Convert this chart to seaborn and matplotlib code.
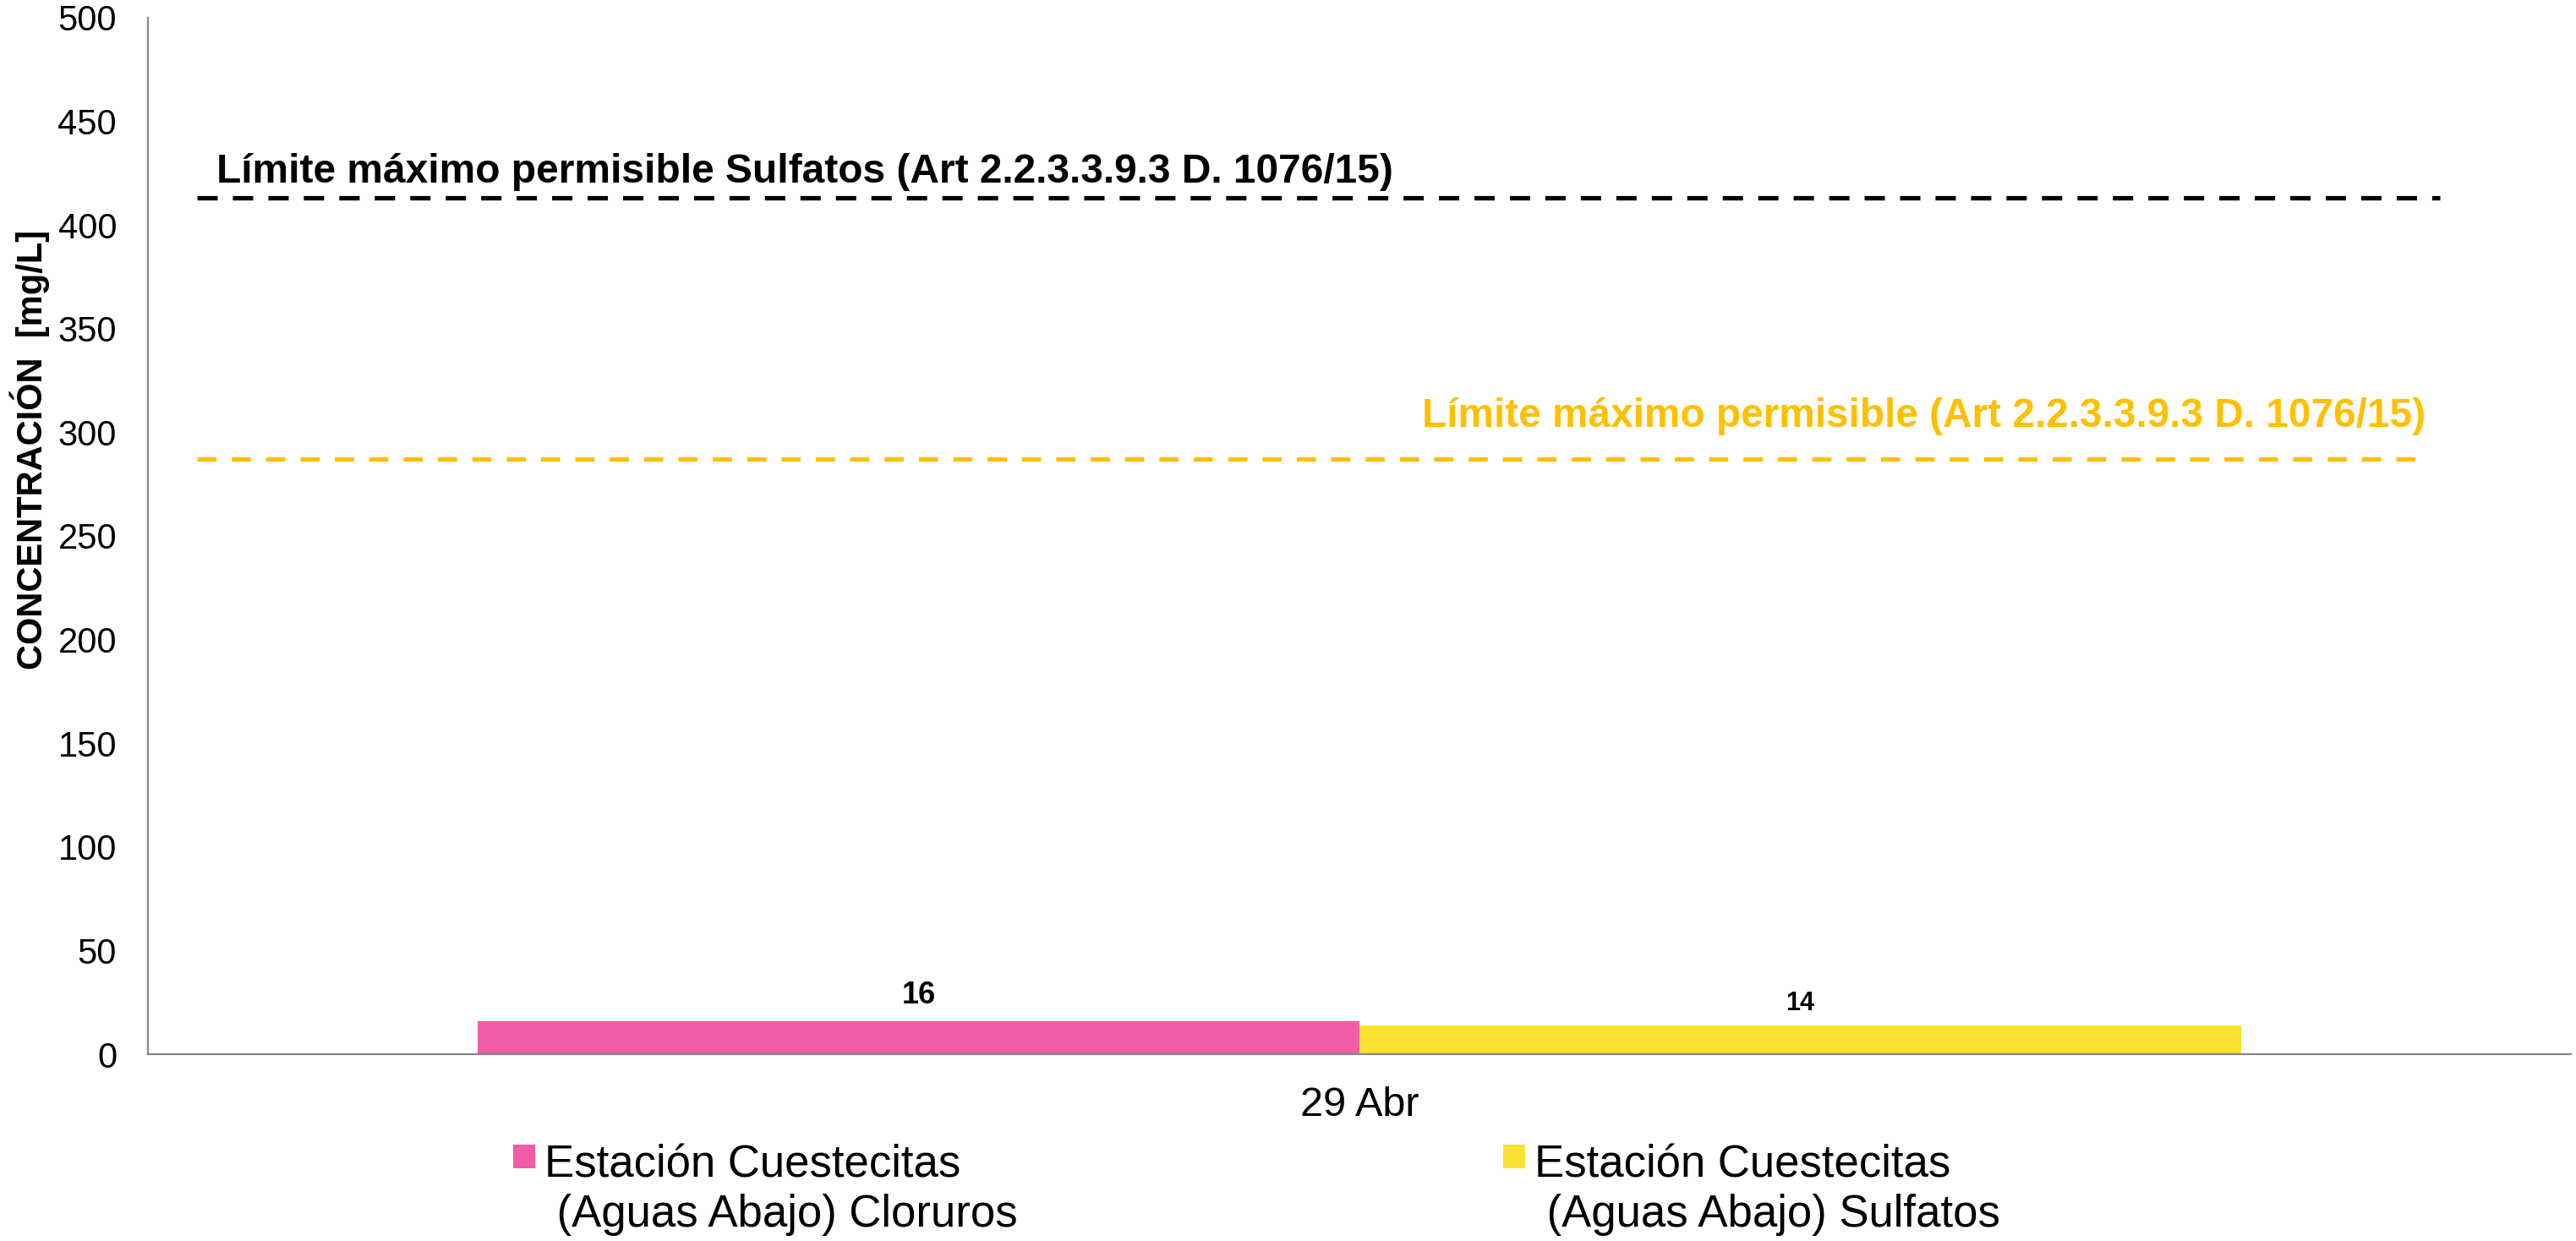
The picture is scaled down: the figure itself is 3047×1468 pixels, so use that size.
import numpy as np
import pandas as pd
import matplotlib
matplotlib.use("Agg")
import matplotlib.pyplot as plt
import matplotlib.transforms as mtransforms
import seaborn as sns
from matplotlib.legend_handler import HandlerPatch
from matplotlib.patches import Rectangle, Patch

# ---------------- data ----------------
fechas = ["29 Abr"]
series = ["Estación Cuestecitas\n (Aguas Abajo) Cloruros",
          "Estación Cuestecitas\n (Aguas Abajo) Sulfatos"]
valores = [16, 14]
etiquetas_valor = ["16", "14"]
colores = ["#EF5DA8", "#F9E231"]
limite_sulfatos = 413
limite_general = 287
texto_limite_sulfatos = "Límite máximo permisible Sulfatos (Art 2.2.3.3.9.3 D. 1076/15)"
texto_limite_general = "Límite máximo permisible (Art 2.2.3.3.9.3 D. 1076/15)"
y_ticks = [0, 50, 100, 150, 200, 250, 300, 350, 400, 450, 500]
y_label = "CONCENTRACIÓN  [mg/L]"

# ---------------- style ----------------
sns.set_theme(style="white")
plt.rcParams["font.family"] = ["Liberation Sans", "DejaVu Sans"]
plt.rcParams["text.color"] = "black"
plt.rcParams["axes.labelcolor"] = "black"
plt.rcParams["xtick.color"] = "black"
plt.rcParams["ytick.color"] = "black"

fig = plt.figure(figsize=(30.47, 14.68), dpi=100)
ax = fig.add_axes([0.05743, 0.15054, 0.9406, 0.8352])

df = pd.DataFrame({"fecha": fechas * len(series), "serie": series, "valor": valores})
sns.barplot(data=df, x="fecha", y="valor", hue="serie", hue_order=series,
            palette=colores, width=0.7275, gap=0, dodge=True, saturation=1,
            legend=False, ax=ax, linewidth=0, errorbar=None)

# value labels
for cont, lab, fs, pad in zip(ax.containers, etiquetas_valor, [26, 22], [9, 8]):
    ax.bar_label(cont, labels=[lab], fontsize=fs, fontweight="bold", padding=pad, color="black")

# limit lines
blend = mtransforms.blended_transform_factory(ax.transAxes, ax.transData)
ax.axhline(limite_sulfatos, xmin=0.0202, xmax=0.946, color="black", lw=3.8,
           ls=(0, (4.55, 3.4)))
ax.axhline(limite_general, xmin=0.0202, xmax=0.941, color="#FFC000", lw=3.8,
           ls=(0, (4.3, 3.4)))
ax.text(0.0283, limite_sulfatos + 7.4, texto_limite_sulfatos, transform=blend,
        ha="left", va="baseline", fontsize=34.5, fontweight="bold", color="black")
ax.text(0.940, limite_general + 15.5, texto_limite_general, transform=blend,
        ha="right", va="baseline", fontsize=34.4, fontweight="bold", color="#FFC000")

# axes
ax.set_xlim(-0.5, 0.5)
ax.set_ylim(0, 500)
ax.set_yticks(y_ticks)
ax.set_yticklabels([str(v) for v in y_ticks])
ax.set_xlabel("")
for s in ["top", "right"]:
    ax.spines[s].set_visible(False)
for s in ["left", "bottom"]:
    ax.spines[s].set_color("#878787")
    ax.spines[s].set_linewidth(1.6)
ax.tick_params(axis="y", length=0, pad=26.6, labelsize=30, labelcolor="black")
ax.tick_params(axis="x", length=0, pad=27, labelsize=35, labelcolor="black")
ax.set_ylabel(y_label, fontsize=30, fontweight="bold", color="black")
ax.yaxis.label.set_va("center")
ax.yaxis.set_label_coords(-0.0488, 0.583)
ax.grid(False)

# legend
def cuadro(legend, orig_handle, xdescent, ydescent, width, height, fontsize):
    return Rectangle((-xdescent, -ydescent + 33), 19, 19.5)

handles = [Patch(facecolor=c, edgecolor="none") for c in colores]
for h, lab, xa in zip(handles, series, [0.1992, 0.5835]):
    fig.legend(handles=[h], labels=[lab], loc="upper left", bbox_to_anchor=(xa, 0.0777),
               frameon=False, fontsize=38, handlelength=0.5, handleheight=0.7,
               handletextpad=0.2, borderpad=0, borderaxespad=0, labelcolor="black",
               handler_map={Patch: HandlerPatch(patch_func=cuadro)})

fig.savefig("out.png", dpi=100)
